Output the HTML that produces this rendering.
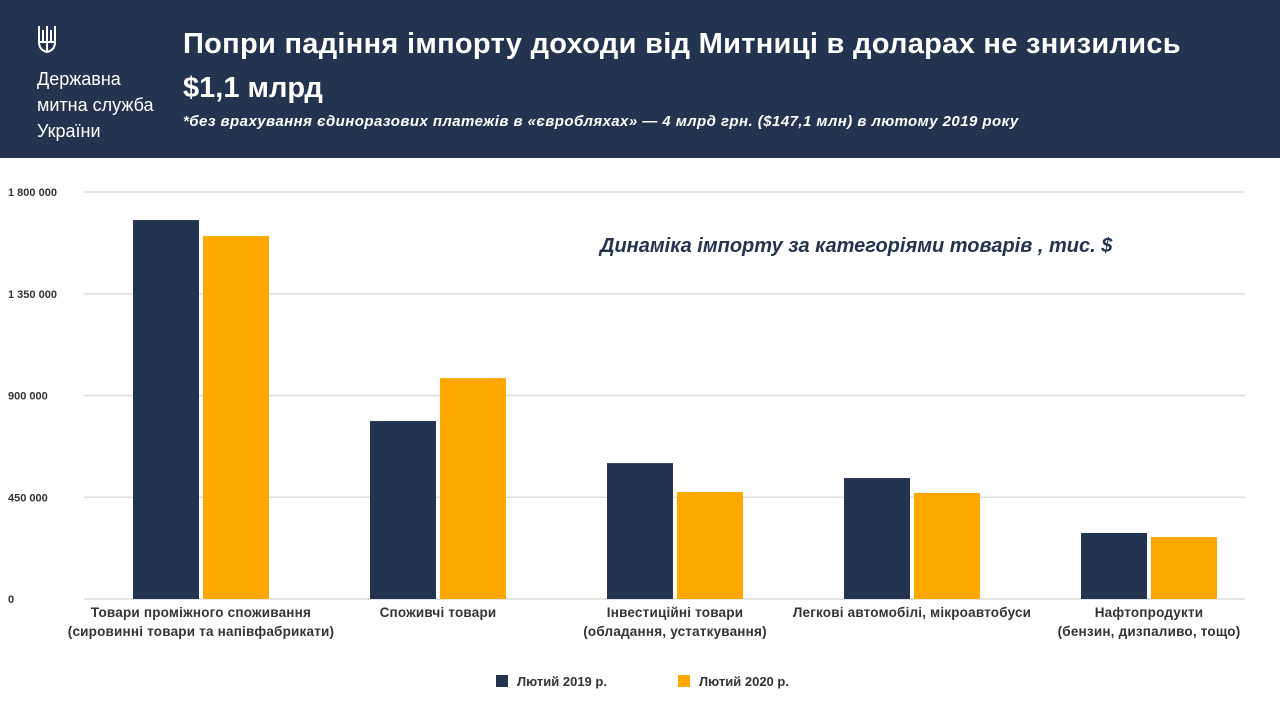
<!DOCTYPE html>
<html><head><meta charset="utf-8"><style>
body{margin:0;width:1280px;height:720px;background:#fff;font-family:"Liberation Sans","DejaVu Sans",sans-serif;overflow:hidden;position:relative}
.hdr{position:absolute;left:0;top:0;width:1280px;height:158px;background:#243350;color:#fff}
.t{position:absolute;white-space:nowrap}
</style></head><body>
<div class="hdr">
<svg class="t" style="left:36px;top:24px" width="22" height="30"><path d="M3 2 L3 18 Q3 26 11 28 Q19 26 19 18 L19 2 M11 2 L11 28 M3 18 L19 18 M7 6 L7 18 M15 6 L15 18" stroke="#fff" stroke-width="2" fill="none"/></svg>
<div class="t" style="left:37px;top:66px;font-size:18px;line-height:26px">Державна<br>митна служба<br>України</div>
<div class="t" style="left:183px;top:28px;font-size:29px;font-weight:bold;letter-spacing:0.3px">Попри падіння імпорту доходи від Митниці в доларах не знизились</div>
<div class="t" style="left:183px;top:72px;font-size:29px;font-weight:bold">$1,1 млрд</div>
<div class="t" style="left:183px;top:113px;font-size:15px;font-weight:bold;font-style:italic;letter-spacing:0.45px">*без врахування єдиноразових платежів в «євробляхах» — 4 млрд грн. ($147,1 млн) в лютому 2019 року</div>
</div>
<div class="t" style="left:600px;top:235px;font-size:20px;font-weight:bold;font-style:italic;color:#243350">Динаміка імпорту за категоріями товарів , тис. $</div>
<svg id="c" width="1280" height="720" style="position:absolute;left:0;top:0"></svg>
<script>
const categories=[["Товари проміжного споживання","(сировинні товари та напівфабрикати)"],["Споживчі товари"],["Інвестиційні товари","(обладання, устаткування)"],["Легкові автомобілі, мікроавтобуси"],["Нафтопродукти","(бензин, дизпаливо, тощо)"]];
const values2019=[1676000,787000,601000,535000,292000];
const values2020=[1605000,977000,473000,469000,274000];
const ticks=[0,450000,900000,1350000,1800000];
const tickLabels=["0","450 000","900 000","1 350 000","1 800 000"];
const seriesNames=["Лютий 2019 р.","Лютий 2020 р."];
const colors=["#243350","#FFA800"];
const svg=document.getElementById('c');const NS="http://www.w3.org/2000/svg";
const y=v=>599-v/1800000*407;
const cx=i=>201+i*237;
function mk(t,a,txt){const e=document.createElementNS(NS,t);for(const k in a)e.setAttribute(k,a[k]);if(txt!=null)e.textContent=txt;svg.appendChild(e);return e;}
ticks.forEach((v,i)=>{
const g=mk('line',{x1:84,x2:1245,y1:y(v),y2:y(v),stroke:'#dddddd','stroke-width':1.5});


const l=mk('text',{x:8,y:y(v)+4,'font-size':11,'font-weight':'bold',fill:'#333'},tickLabels[i]);


});
[values2019,values2020].forEach((vals,s)=>{vals.forEach((v,i)=>{
const r=mk('rect',{x:s?cx(i)+2:cx(i)-68,y:y(v),width:66,height:599-y(v),fill:colors[s]});


});});
categories.forEach((lines,i)=>{lines.forEach((ln,j)=>{
const t=mk('text',{x:cx(i),y:617+j*19,'text-anchor':'middle','font-size':13.5,'font-weight':'bold',fill:'#333','letter-spacing':0.2},ln);


});});
seriesNames.forEach((n,s)=>{
const bx=496+s*182;
const r=mk('rect',{x:bx,y:675,width:12,height:12,fill:colors[s]});


const t=mk('text',{x:bx+21,y:686,'font-size':13,'font-weight':'bold',fill:'#333'},n);


});
</script>
</body></html>
